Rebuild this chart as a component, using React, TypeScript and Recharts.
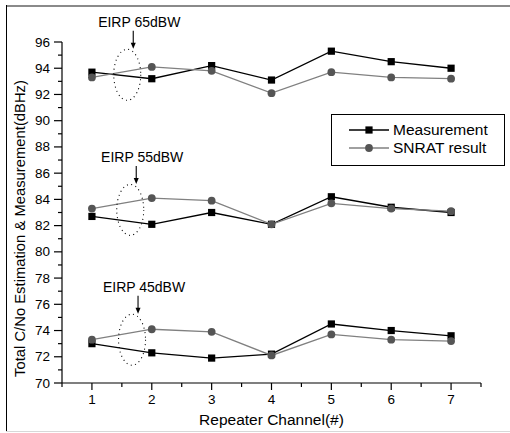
import React from 'react';
import { LineChart, Line, XAxis, YAxis, ReferenceDot } from 'recharts';

const CHANNELS = [1, 2, 3, 4, 5, 6, 7];
const MEAS_65 = [93.7, 93.2, 94.2, 93.1, 95.3, 94.5, 94.0];
const SNRAT_65 = [93.3, 94.1, 93.8, 92.1, 93.7, 93.3, 93.2];
const MEAS_55 = [82.7, 82.1, 83.0, 82.1, 84.2, 83.4, 83.0];
const SNRAT_55 = [83.3, 84.1, 83.9, 82.1, 83.7, 83.3, 83.1];
const MEAS_45 = [73.0, 72.3, 71.9, 72.2, 74.5, 74.0, 73.6];
const SNRAT_45 = [73.3, 74.1, 73.9, 72.1, 73.7, 73.3, 73.2];

const X_TICKS = [0.5, 1, 1.5, 2, 2.5, 3, 3.5, 4, 4.5, 5, 5.5, 6, 6.5, 7, 7.5];
const Y_TICKS = [70, 71, 72, 73, 74, 75, 76, 77, 78, 79, 80, 81, 82, 83, 84, 85, 86, 87, 88, 89, 90, 91, 92, 93, 94, 95, 96];

const EIRP_LABELS = ['EIRP 65dBW', 'EIRP 55dBW', 'EIRP 45dBW'];
const EIRP_MARK_X = [1.59, 1.64, 1.67];
const EIRP_MARK_Y = [93.5, 83.2, 73.3];

const SERIES_NAMES = ['Measurement', 'SNRAT result'];

const data = CHANNELS.map((ch, i) => ({
  ch,
  m65: MEAS_65[i], s65: SNRAT_65[i],
  m55: MEAS_55[i], s55: SNRAT_55[i],
  m45: MEAS_45[i], s45: SNRAT_45[i],
}));

const FONT = '"Liberation Sans", Arial, sans-serif';
const MEAS_COLOR = '#000000';
const SNRAT_LINE = '#808080';
const SNRAT_DOT = '#555555';

const XTick = ({ x, y, payload }: any) => {
  const major = Number.isInteger(payload.value);
  return (
    <g>
      <line x1={x} x2={x} y1={y} y2={y + (major ? 7 : 4)} stroke="#000" strokeWidth={1.2} />
      {major && <text x={x} y={y + 21} textAnchor="middle" fontSize={13.5} fill="#000" fontFamily={FONT}>{payload.value}</text>}
    </g>
  );
};

const YTick = ({ x, y, payload }: any) => {
  const major = payload.value % 2 === 0;
  return (
    <g>
      <line x1={x - (major ? 8 : 4)} x2={x} y1={y} y2={y} stroke="#000" strokeWidth={1.2} />
      {major && <text x={x - 12} y={y + 4.5} textAnchor="end" fontSize={13.5} fill="#000" fontFamily={FONT}>{payload.value}</text>}
    </g>
  );
};

const squareDot = (props: any) => {
  const { cx, cy, index, dataKey } = props;
  return <rect key={`${dataKey}-${index}`} x={cx - 3.6} y={cy - 3.6} width={7.2} height={7.2} fill={MEAS_COLOR} />;
};

const circleDot = (props: any) => {
  const { cx, cy, index, dataKey } = props;
  return <circle key={`${dataKey}-${index}`} cx={cx} cy={cy} r={3.9} fill={SNRAT_DOT} />;
};

const eirpMark = (label: string) => (props: any) => {
  const { cx, cy } = props;
  return (
    <g>
      <ellipse cx={cx} cy={cy} rx={13.5} ry={25.5} fill="none" stroke="#000" strokeWidth={1.1} strokeDasharray="1 3.5" />
      <line x1={cx + 6} x2={cx + 6} y1={cy - 44} y2={cy - 31} stroke="#000" strokeWidth={1.1} />
      <path d={`M${cx + 3.5},${cy - 32} L${cx + 8.5},${cy - 32} L${cx + 6},${cy - 26} Z`} fill="#000" />
      <text x={cx + 12} y={cy - 48} textAnchor="middle" fontSize={14} fill="#000" fontFamily={FONT}>{label}</text>
    </g>
  );
};

const YLabel = (props: any) => {
  const vb = props.viewBox || { x: 0, y: 42, width: 62, height: 341 };
  const cx = vb.x + 20;
  const cy = vb.y + vb.height / 2 + 16;
  return (
    <text x={cx} y={cy} transform={`rotate(-90 ${cx} ${cy})`} textAnchor="middle" dominantBaseline="central" fontSize={14.8} fill="#000" fontFamily={FONT}>
      Total C/No Estimation &amp; Measurement(dBHz)
    </text>
  );
};

const XLabel = (props: any) => {
  const vb = props.viewBox || { x: 62, y: 383, width: 419, height: 50 };
  return (
    <text x={vb.x + vb.width / 2} y={vb.y + 42} textAnchor="middle" fontSize={15.5} fill="#000" fontFamily={FONT}>
      Repeater Channel(#)
    </text>
  );
};

export default function App() {
  return (
    <div style={{ position: 'absolute', left: 0, top: 0, width: 510, height: 433, background: '#fff', fontFamily: FONT, overflow: 'hidden' }}>
      <div style={{ position: 'absolute', left: 6, top: 5, width: 504, height: 2, background: '#8a8a8a' }} />
      <div style={{ position: 'absolute', left: 6, top: 5, width: 1, height: 427, background: '#000' }} />
      <div style={{ position: 'absolute', left: 6, top: 431, width: 504, height: 1, background: '#d8d8d8' }} />
      <LineChart width={510} height={433} data={data} margin={{ top: 42, right: 29, bottom: 0, left: 0 }}>
        <XAxis dataKey="ch" type="number" domain={[0.5, 7.5]} ticks={X_TICKS} interval={0} tickSize={0} tickMargin={0}
          height={50} tick={XTick} tickLine={false} axisLine={{ stroke: '#000', strokeWidth: 1.2 }} label={{ content: XLabel }} />
        <YAxis type="number" domain={[70, 96]} ticks={Y_TICKS} interval={0} tickSize={0} tickMargin={0}
          width={62} tick={YTick} tickLine={false} axisLine={{ stroke: '#000', strokeWidth: 1.2 }} label={{ content: YLabel }} />
        {EIRP_LABELS.map((lab, i) => (
          <ReferenceDot key={lab} x={EIRP_MARK_X[i]} y={EIRP_MARK_Y[i]} r={0} shape={eirpMark(lab)} />
        ))}
        <Line dataKey="m65" stroke={MEAS_COLOR} strokeWidth={1.3} dot={squareDot} isAnimationActive={false} />
        <Line dataKey="s65" stroke={SNRAT_LINE} strokeWidth={1.3} dot={circleDot} isAnimationActive={false} />
        <Line dataKey="m55" stroke={MEAS_COLOR} strokeWidth={1.3} dot={squareDot} isAnimationActive={false} />
        <Line dataKey="s55" stroke={SNRAT_LINE} strokeWidth={1.3} dot={circleDot} isAnimationActive={false} />
        <Line dataKey="m45" stroke={MEAS_COLOR} strokeWidth={1.3} dot={squareDot} isAnimationActive={false} />
        <Line dataKey="s45" stroke={SNRAT_LINE} strokeWidth={1.3} dot={circleDot} isAnimationActive={false} />
      </LineChart>
      <div style={{ position: 'absolute', left: 331, top: 114, width: 172, height: 50, border: '1px solid #000', background: '#fff' }}>
        {SERIES_NAMES.map((name, i) => (
          <div key={name} style={{ position: 'absolute', left: 0, top: 15 + i * 18 - 10, height: 20, width: 172 }}>
            <svg width={60} height={20} style={{ position: 'absolute', left: 0, top: 0 }}>
              <line x1={17} x2={57} y1={10} y2={10} stroke={i === 0 ? MEAS_COLOR : SNRAT_LINE} strokeWidth={1.3} />
              {i === 0
                ? <rect x={37 - 3.6} y={10 - 3.6} width={7.2} height={7.2} fill={MEAS_COLOR} />
                : <circle cx={37} cy={10} r={3.9} fill={SNRAT_DOT} />}
            </svg>
            <span style={{ position: 'absolute', left: 61, top: 0, lineHeight: '20px', fontSize: 15.5, color: '#000', whiteSpace: 'nowrap' }}>{name}</span>
          </div>
        ))}
      </div>
    </div>
  );
}
